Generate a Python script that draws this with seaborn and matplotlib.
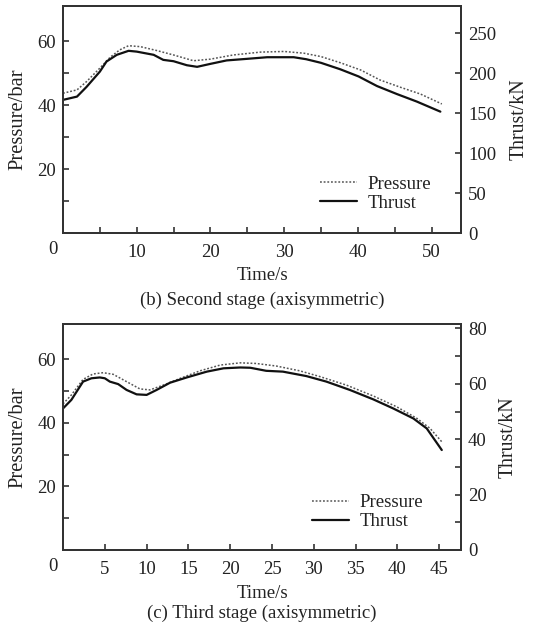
import numpy as np
import pandas as pd
import matplotlib
matplotlib.use("Agg")
import matplotlib.pyplot as plt
from matplotlib.lines import Line2D
import seaborn as sns

# ---- data: second stage ----
t2_thrust = [0, 1.9, 3.2, 5.0, 5.9, 7.3, 8.9, 10.0, 12.3, 13.6, 15.0, 16.8, 18.2, 20.0,
             22.2, 25.0, 27.7, 31.3, 33.0, 35.0, 37.6, 40.1, 42.6, 45.3, 48.0, 51.2]
thrust2 = [166.7, 170.8, 183, 202, 214.6, 223, 228, 227, 223, 216.7, 215, 210, 208, 211.7,
           216, 218, 220, 220, 217.5, 213, 205, 196, 184, 174, 164.6, 152]
t2_press = [0, 1.9, 3.2, 5.0, 6.4, 7.7, 8.9, 10.5, 12.7, 15.0, 17.7, 20.0, 23.1, 26.8,
            30.0, 32.7, 35.0, 37.6, 40.4, 43.0, 45.8, 48.5, 51.4]
press2 = [43.75, 44.8, 47.4, 51.6, 55.0, 57.3, 58.6, 58.3, 57.1, 55.7, 53.9, 54.4, 55.7, 56.6,
          56.8, 56.25, 55.2, 53.3, 51.0, 47.9, 45.6, 43.5, 40.4]

# ---- data: third stage ----
t3_thrust = [0, 1.0, 2.4, 3.4, 4.4, 5.0, 5.6, 6.6, 7.6, 8.8, 10.0, 11.2, 12.8, 14.8, 17.2,
             19.2, 21.2, 22.4, 24.3, 26.3, 29.1, 31.5, 34.3, 37.1, 39.5, 41.9, 43.5, 45.3]
thrust3 = [51.1, 54.2, 60.8, 62.0, 62.3, 62.0, 60.8, 59.9, 57.8, 56.2, 56.0, 57.8, 60.4, 62.3,
           64.4, 65.6, 65.9, 65.8, 64.7, 64.4, 62.8, 60.8, 57.8, 54.4, 51.1, 47.5, 43.9, 36.1]
t3_press = [0, 1.0, 2.4, 3.6, 4.8, 6.0, 7.6, 9.2, 10.4, 12.0, 14.0, 16.4, 18.8, 21.2, 23.1,
            25.5, 28.3, 30.7, 33.9, 37.1, 39.9, 42.3, 43.9, 45.3]
press3 = [45.9, 48.7, 53.6, 55.3, 55.7, 55.2, 52.9, 50.6, 50.3, 51.8, 53.9, 56.3, 58.1, 58.8,
          58.6, 57.8, 56.3, 54.5, 51.8, 48.4, 45.0, 41.4, 38.2, 34.0]

captions = ["(b) Second stage (axisymmetric)", "(c) Third stage (axisymmetric)"]
legend_labels = ["Pressure", "Thrust"]

FS = 13.5
sns.set_theme(style="ticks")
plt.rcParams["font.family"] = ["Liberation Serif", "DejaVu Serif"]
plt.rcParams.update({
    "font.size": FS, "xtick.labelsize": FS, "ytick.labelsize": FS,
    "axes.labelsize": FS, "legend.fontsize": FS,
    "axes.linewidth": 1.4, "axes.edgecolor": "#333333", "text.color": "#222222",
    "axes.labelcolor": "#222222",
    "xtick.color": "#333333", "ytick.color": "#333333",
    "xtick.labelcolor": "#222222", "ytick.labelcolor": "#222222",
})

fig = plt.figure(figsize=(5.47, 6.32), dpi=100)
W, H = 547, 632

def make_axes(top_px, bot_px):
    return fig.add_axes([63 / W, 1 - bot_px / H, (461 - 63) / W, (bot_px - top_px) / H])

panels = [
    dict(top=6, bot=233.3, tp=t2_press, p=press2, tt=t2_thrust, th=thrust2,
         xlim=54, xticks=np.arange(0, 55, 5), xlab_every=10,
         rlim=284, rticks=np.arange(0, 251, 50), rlabels=np.arange(0, 251, 50),
         cap=captions[0], leg_y=(182, 203), leg_x=320, ylab_x=519, cap_y=300, xlab_y=275),
    dict(top=324, bot=550, tp=t3_press, p=press3, tt=t3_thrust, th=thrust3,
         xlim=47.6, xticks=np.arange(0, 46, 5), xlab_every=5,
         rlim=81.6, rticks=np.arange(0, 81, 10), rlabels=np.arange(0, 81, 20),
         cap=captions[1], leg_y=(500.7, 522), leg_x=312, ylab_x=508, cap_y=613, xlab_y=593),
]

for pn in panels:
    ax = make_axes(pn["top"], pn["bot"])
    ax2 = ax.twinx()
    sns.lineplot(x=pn["tp"], y=pn["p"], ax=ax, color="#555555", linestyle=(0, (1.2, 1.2)),
                 linewidth=1.1)
    sns.lineplot(x=pn["tt"], y=pn["th"], ax=ax2, color="#111111", linewidth=1.6)
    ax.set_xlim(0, pn["xlim"])
    ax.set_ylim(0, 71)
    ax2.set_ylim(0, pn["rlim"])

    ax.set_xticks(pn["xticks"])
    ax.set_xticklabels([("%d" % v if (v % pn["xlab_every"] == 0 and v != 0) else "")
                        for v in pn["xticks"]])
    ax.annotate("0", xy=(0, 0), xycoords="data", xytext=(-7, -12),
                textcoords="offset points", ha="center", va="center", fontsize=FS)
    lt = np.arange(10, 61, 10)
    ax.set_yticks(lt)
    ax.set_yticklabels([("%d" % v if v % 20 == 0 else "") for v in lt])
    ax2.set_yticks(pn["rticks"])
    ax2.set_yticklabels([("%d" % v if v in pn["rlabels"] else "") for v in pn["rticks"]])

    for a in (ax, ax2):
        a.tick_params(direction="in", length=4, width=1.2, pad=5)
    ax.tick_params(axis="x", pad=8)

    ax.set_xlabel("Time/s")
    ax.set_ylabel("Pressure/bar", fontsize=14.8)
    ax2.set_ylabel("Thrust/kN", fontsize=14.3)
    h = pn["bot"] - pn["top"]
    ax.xaxis.set_label_coords(0.5, 1 - (pn["xlab_y"] - pn["top"]) / h)
    ax.xaxis.label.set_va("center")
    ax.yaxis.set_label_coords((18 - 63) / 398, 0.5)
    ax.yaxis.label.set_va("center")
    ax2.yaxis.set_label_coords((pn["ylab_x"] - 63) / 398, 0.5)
    ax2.yaxis.label.set_va("center")

    handles = [Line2D([], [], color="#555555", linestyle=(0, (1.2, 1.2)), linewidth=1.1),
               Line2D([], [], color="#111111", linewidth=1.6)]
    ax2.legend(handles, legend_labels, loc="upper left", frameon=False,
               bbox_to_anchor=((pn["leg_x"] - 63 - 8) / 398,
                               1 - (pn["leg_y"][0] - 14 - pn["top"]) / h),
               handlelength=2.0, handletextpad=0.55, labelspacing=0.1, borderaxespad=0)

    fig.text((63 + 461) / 2 / W, 1 - pn["cap_y"] / H, pn["cap"],
             ha="center", va="center", fontsize=FS)

fig.savefig("out.png", dpi=100)
